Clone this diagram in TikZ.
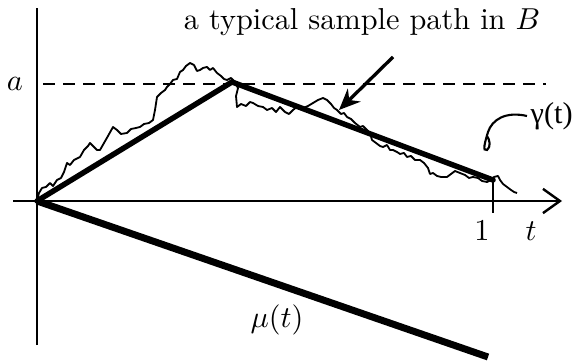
\documentclass[tikz,border=0pt]{standalone}
\usepackage{fontspec}
\newfontfamily\timesfont{Liberation Serif}
\usetikzlibrary{arrows.meta}
\tikzset{
  axisline/.style={line width=0.7pt},
  boundline/.style={line width=1.8pt, line cap=round},
  driftline/.style={line width=2.3pt},
  samplepath/.style={line width=0.6pt, line join=round},
}
\begin{document}
\begin{tikzpicture}[x=0.33pt, y=-0.33pt]
  \useasboundingbox (0,0) rectangle (573,362);
  % axes
  \coordinate (O) at (37,201);
  \coordinate (ytop) at (37,8);
  \coordinate (ybot) at (37,345);
  \coordinate (xleft) at (13,201);
  \coordinate (xright) at (562,201);
  \draw[axisline] (ybot) -- (ytop);
  \draw[axisline, -{Straight Barb[length=5.6pt, width=8pt, line width=0.8pt]}] (xleft) -- (xright);
  % level a
  \coordinate (dashL) at (43,84);
  \coordinate (dashR) at (546,84);
  \draw[line width=0.8pt, dash pattern=on 4pt off 2.6pt] (dashL) -- (dashR);
  \node (alabel) at (15,84) {$a$};
  % tick at t=1
  \coordinate (tickT) at (493,180);
  \coordinate (tickB) at (493,213);
  \draw[axisline] (tickT) -- (tickB);
  \node (one) at (482,231) {$1$};
  \node (tlabel) at (531,231) {$t$};
  % the set B: up to a, back down at t=1
  \coordinate (P) at (232,82);
  \coordinate (Q) at (493,180);
  \draw[boundline] (O) -- (P) -- (Q);
  % drift
  \coordinate (M) at (488,357);
  \draw[driftline] (O) -- (M);
  \node (mulabel) at (277,320) {$\mu(t)$};
  % sample path
  \draw[samplepath] (O) -- (39,193) -- (42,188) -- (46,187) -- (50,183) -- (53,186)
    -- (57,180) -- (61,178) -- (64,172) -- (67,163) -- (70,165) -- (74,160)
    -- (80,157) -- (84,150) -- (88,146) -- (90,143) -- (94,147) -- (97,150)
    -- (100,150) -- (104,143) -- (108,136) -- (113,127) -- (117,130) -- (121,134)
    -- (127,133) -- (131,129) -- (136,128) -- (140,127) -- (144,124) -- (149,123)
    -- (153,120) -- (155,110) -- (157,97) -- (161,93) -- (165,90) -- (167,87)
    -- (170,84) -- (173,80) -- (177,79) -- (180,72) -- (183,70) -- (186,66)
    -- (190,63) -- (194,65) -- (197,71) -- (200,70) -- (203,68) -- (207,67)
    -- (210,70) -- (213,68) -- (217,73) -- (221,76) -- (224,79) -- (227,80)
    -- (231,78) -- (235,82) -- (238,88) -- (236,96) -- (237,107) -- (241,104)
    -- (246,106) -- (250,102) -- (253,103) -- (258,106) -- (263,107) -- (267,110)
    -- (272,108) -- (276,112) -- (280,107) -- (285,112) -- (289,114) -- (293,110)
    -- (298,106) -- (303,108) -- (308,106) -- (313,103) -- (318,100) -- (323,98)
    -- (327,100) -- (331,104) -- (334,108) -- (337,110) -- (341,114) -- (344,113)
    -- (347,117) -- (351,119) -- (355,123) -- (360,127) -- (363,126) -- (367,130)
    -- (370,133) -- (372,140) -- (376,143) -- (380,146) -- (383,147) -- (387,145)
    -- (390,150) -- (393,150) -- (397,152) -- (400,154) -- (404,153) -- (407,157)
    -- (411,156) -- (415,160) -- (420,160) -- (424,163) -- (428,168) -- (430,174)
    -- (433,173) -- (437,176) -- (441,177) -- (447,177) -- (451,174) -- (455,171)
    -- (460,173) -- (465,175) -- (469,178) -- (473,177) -- (478,178) -- (482,181)
    -- (487,182) -- (491,180) -- (494,177) -- (498,176) -- (500,180) -- (503,184)
    -- (507,187) -- (511,190) -- (514,192) -- (517,193);
  % caption and pointer
  \node (caption) at (362,22) {a typical sample path in $B$};
  \coordinate (ptrstart) at (393,57);
  \coordinate (ptrend) at (339,110);
  \draw[line width=1.1pt, -{Stealth[length=7pt, width=6pt]}] (ptrstart) -- (ptrend);
  % gamma label with hook
  \node[font=\timesfont, inner sep=0pt, anchor=west] (gammalabel) at (530,116) {γ(t)};
  \draw[line width=0.7pt] ([xshift=-1pt]gammalabel.west) .. controls (505,111) and (492,120) .. (488,132)
    .. controls (485,142) and (482,152) .. (487,150)
    .. controls (491,147) and (490,140) .. (487,136);
\end{tikzpicture}
\end{document}
